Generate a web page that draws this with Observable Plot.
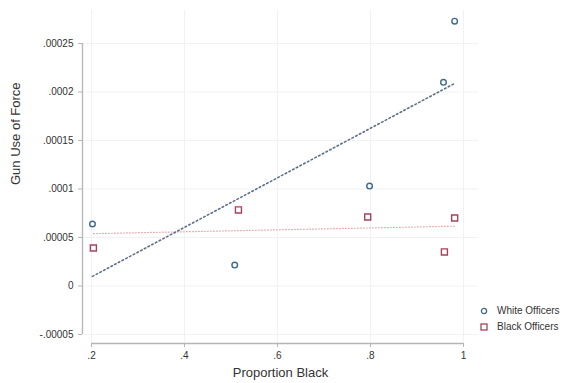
<!DOCTYPE html>
<html>
<head>
<meta charset="utf-8">
<script src="https://cdn.jsdelivr.net/npm/d3@7"></script>
<script src="https://cdn.jsdelivr.net/npm/@observablehq/plot@0.6"></script>
<style>
  html, body { margin: 0; padding: 0; background: #fff; }
  #wrap { position: relative; width: 570px; height: 383px; font-family: "Liberation Sans", Arial, sans-serif; }
  #legend { position: absolute; left: 479px; top: 303px; font-size: 10px; color: #333; line-height: 16px; }
  #legend div { display: flex; align-items: center; }
  #legend svg { margin-right: 8px; }
</style>
</head>
<body>
<div id="wrap"></div>
<script>
// Data
const proportionBlack = [0.202, 0.508, 0.798, 0.957, 0.981];
const whiteOfficers   = [0.0000639, 0.0000216, 0.000103, 0.000210, 0.000273];
const blackProportion = [0.204, 0.516, 0.794, 0.959, 0.981];
const blackOfficers   = [0.0000392, 0.0000784, 0.0000711, 0.0000351, 0.0000701];

const xTicks = [0.2, 0.4, 0.6, 0.8, 1];
const xTickLabels = [".2", ".4", ".6", ".8", "1"];
const yTicks = [-0.00005, 0, 0.00005, 0.0001, 0.00015, 0.0002, 0.00025];
const yTickLabels = ["-.00005", "0", ".00005", ".0001", ".00015", ".0002", ".00025"];

const seriesNames = ["White Officers", "Black Officers"];
const seriesColors = ["#3f6a8f", "#a8425a"];

const white = proportionBlack.map((x, i) => ({x, y: whiteOfficers[i]}));
const black = blackProportion.map((x, i) => ({x, y: blackOfficers[i]}));

const xDomain = [0.1806, 1.0323];
const yDomain = [-0.0000593, 0.000284];

const chart = Plot.plot({
  width: 570,
  height: 383,
  marginLeft: 82,
  marginRight: 92,
  marginTop: 10,
  marginBottom: 40,
  style: {fontFamily: "Liberation Sans, Arial, sans-serif", background: "#fff", color: "#333"},
  x: {domain: xDomain},
  y: {domain: yDomain},
  marks: [
    Plot.gridX(xTicks, {stroke: "#f1f2f5", strokeOpacity: 1, strokeWidth: 1}),
    Plot.gridY(yTicks, {stroke: "#f1f2f5", strokeOpacity: 1, strokeWidth: 1}),
    Plot.ruleY([yDomain[0]], {x1: xTicks[0], x2: xTicks[xTicks.length - 1], stroke: "#b5b5b5", strokeWidth: 1.3}),
    Plot.ruleX([xDomain[0]], {y1: yTicks[0], y2: yTicks[yTicks.length - 1], stroke: "#b5b5b5", strokeWidth: 1.3}),
    Plot.axisX({ticks: xTicks, tickFormat: (d) => xTickLabels[xTicks.indexOf(d)], tickSize: 4, tickPadding: 4, fontSize: 10, stroke: "#b5b5b5", fill: "#333", label: null}),
    Plot.axisY({ticks: yTicks, tickFormat: (d) => yTickLabels[yTicks.indexOf(d)], tickSize: 4, tickPadding: 5, fontSize: 10, stroke: "#b5b5b5", fill: "#333", label: null}),
    Plot.text(["Proportion Black"], {frameAnchor: "bottom", dy: 33, fontSize: 13, fill: "#333"}),
    Plot.text(["Gun Use of Force"], {frameAnchor: "left", dx: -67, dy: 8, rotate: -90, fontSize: 13, fill: "#333"}),
    Plot.linearRegressionY(black, {x: "x", y: "y", ci: 0, stroke: "#e5aeb2", strokeWidth: 1.2, strokeDasharray: "1,2"}),
    Plot.linearRegressionY(white, {x: "x", y: "y", ci: 0, stroke: "#5d6f88", strokeWidth: 1.6, strokeDasharray: "1.6,2.6"}),
    Plot.dot(white, {x: "x", y: "y", r: 2.8, stroke: seriesColors[0], strokeWidth: 1.4, fill: "none"}),
    Plot.dot(black, {x: "x", y: "y", r: 3.4, symbol: "square", stroke: seriesColors[1], strokeWidth: 1.4, fill: "none"})
  ]
});

const wrap = document.getElementById("wrap");
wrap.appendChild(chart);

const legend = document.createElement("div");
legend.id = "legend";
seriesNames.forEach((name, i) => {
  const row = document.createElement("div");
  const sym = i === 0
    ? `<svg width="10" height="10"><circle cx="5" cy="5" r="2.6" fill="none" stroke="${seriesColors[i]}" stroke-width="1.3"/></svg>`
    : `<svg width="10" height="10"><rect x="2" y="2" width="6" height="6" fill="none" stroke="${seriesColors[i]}" stroke-width="1.3"/></svg>`;
  row.innerHTML = sym + `<span>${name}</span>`;
  legend.appendChild(row);
});
wrap.appendChild(legend);
</script>
</body>
</html>
